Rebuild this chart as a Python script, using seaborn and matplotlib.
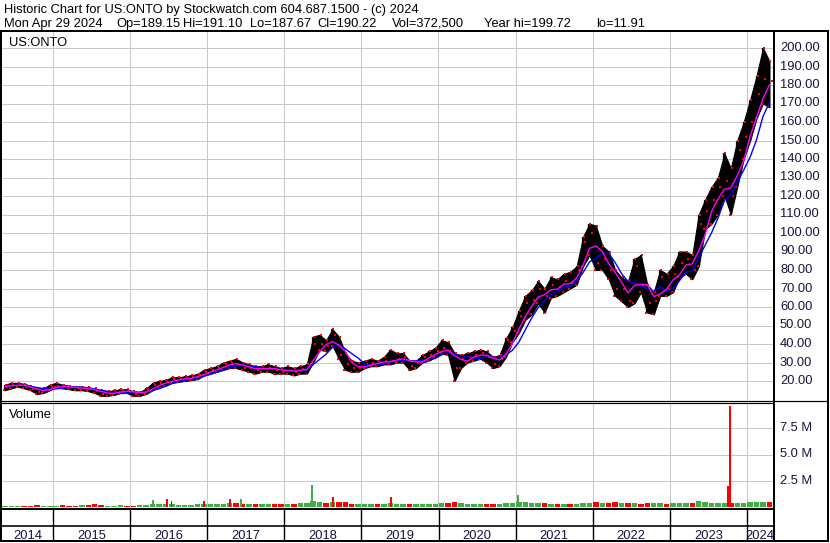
import numpy as np
import pandas as pd
import matplotlib
matplotlib.use("Agg")
import matplotlib.pyplot as plt
import seaborn as sns
from matplotlib.lines import Line2D

#------------DATA----------------------------------
# monthly bars, May 2014 .. Apr 2024
start_month = "2014-05"
price_low = [15, 16, 17, 16, 15, 13, 13.5, 15,
             16.5, 16, 15.5, 15, 15, 14.5, 13.5, 12, 12, 12.5, 13.5, 13.5,
             12, 12, 13, 15, 17, 17.5, 19, 19.5, 20, 20.5, 21, 23,
             24, 25, 26, 27, 27, 26, 25, 24, 25, 25, 24, 24,
             24, 23, 24, 24, 30, 37, 36, 39, 32, 26, 25, 25,
             27, 28, 28, 29, 29, 30, 30, 26, 27, 30, 31, 33,
             35, 34, 20, 27, 30, 31, 32, 30, 27, 28, 33, 41,
             46, 53, 56, 62, 57, 65, 66, 68, 70, 72, 82, 88,
             80, 80, 75, 66, 63, 60, 62, 68, 57, 56, 66, 66,
             68, 76, 78, 75, 82, 102, 105, 110, 120, 110, 125, 140,
             150, 162, 170, 168]
price_high = [18, 19, 19, 18.5, 17.5, 16, 16, 18,
              19, 18, 17.5, 17, 17, 16.5, 16, 15, 14.5, 15, 15.5, 15.5,
              14.5, 14, 16, 19, 20, 20.5, 22, 22, 22.5, 23, 24, 26,
              27, 28, 30, 31, 32, 30, 29, 28, 28, 29, 28, 27,
              28, 27, 28, 29, 44, 45, 42, 48, 44, 35, 31, 30,
              31, 32, 31, 33, 37, 35, 35, 31, 31, 34, 36, 38,
              42, 41, 35, 34, 35, 36, 37, 36, 33, 34, 43, 49,
              58, 66, 69, 74, 70, 76, 75, 78, 79, 82, 98, 105,
              104, 93, 90, 80, 76, 74, 86, 88, 72, 68, 80, 78,
              82, 90, 90, 88, 110, 118, 125, 130, 143, 135, 150, 160,
              172, 185, 200, 193]
price_close = [17, 18, 18, 17, 15.5, 14, 15, 17,
               17.5, 17, 16.5, 16, 16, 15.5, 14.5, 13, 13, 14, 15, 14.5,
               13, 13.5, 15.5, 18, 19, 19.5, 21, 21, 21.5, 22, 23.5, 25,
               26, 27, 29, 30, 29, 27, 27, 26, 27, 27, 26, 25,
               26, 25, 26.5, 27, 40, 40, 39, 45, 34, 29, 27, 27,
               29, 30, 29.5, 31, 31, 32, 33, 28, 30, 33, 34, 36,
               38, 36, 27, 32, 33, 34, 35, 33, 29, 32, 42, 47,
               55, 62, 64, 70, 66, 72, 71, 74, 73, 80, 95, 100,
               84, 86, 80, 70, 70, 63, 82, 72, 62, 63, 76, 70,
               78, 84, 86, 80, 105, 112, 118, 125, 128, 120, 145, 152,
               160, 175, 183, 182]
# typical daily volume per month, millions
volume_m = [0.15, 0.12, 0.1, 0.12, 0.15, 0.2, 0.15, 0.15,
            0.15, 0.2, 0.15, 0.15, 0.25, 0.2, 0.3, 0.2, 0.15, 0.15, 0.2, 0.15,
            0.15, 0.2, 0.2, 0.35, 0.3, 0.3, 0.3, 0.25, 0.2, 0.25, 0.3, 0.3,
            0.3, 0.35, 0.35, 0.4, 0.45, 0.35, 0.3, 0.3, 0.3, 0.3, 0.3, 0.3,
            0.3, 0.35, 0.4, 0.4, 0.6, 0.5, 0.45, 0.5, 0.55, 0.5, 0.35, 0.35,
            0.3, 0.3, 0.3, 0.35, 0.4, 0.35, 0.3, 0.35, 0.3, 0.3, 0.35, 0.35,
            0.4, 0.4, 0.5, 0.4, 0.35, 0.35, 0.35, 0.3, 0.3, 0.35, 0.4, 0.4,
            0.5, 0.5, 0.45, 0.4, 0.4, 0.35, 0.35, 0.3, 0.3, 0.35, 0.45, 0.45,
            0.5, 0.45, 0.45, 0.5, 0.4, 0.4, 0.4, 0.35, 0.4, 0.4, 0.4, 0.35,
            0.4, 0.45, 0.4, 0.45, 0.6, 0.5, 0.4, 0.4, 0.45, 0.45, 0.4, 0.45,
            0.5, 0.5, 0.55, 0.5]
# single-day volume spikes
spike_dates = ["2016-04-20", "2016-06-25", "2016-07-15", "2016-12-15", "2017-04-20",
               "2017-06-10", "2018-05-10", "2018-08-20", "2019-05-20", "2021-01-10",
               "2023-10-05", "2023-10-12"]
spike_vol_m = [0.75, 0.8, 0.6, 0.65, 0.8, 0.8, 2.1, 1.0, 1.0, 1.2, 2.0, 9.6]
spike_dir = ["up", "down", "down", "down", "down", "up", "up", "down", "down", "up",
             "down", "down"]

years = list(range(2014, 2025))
price_ticks = list(range(20, 201, 10))
vol_ticks = [2.5, 5.0, 7.5]

title1 = "Historic Chart for US:ONTO by Stockwatch.com 604.687.1500 - (c) 2024"
title2 = [("Mon Apr 29 2024", 4), ("Op=189.15", 116), ("Hi=191.10", 183),
          ("Lo=187.67", 250), ("Cl=190.22", 317), ("Vol=372,500", 392),
          ("Year hi=199.72", 484), ("lo=11.91", 596)]

#------------PREP-------------
def dec_year(ts):
    ts = pd.Timestamp(ts)
    return ts.year + (ts.dayofyear - 0.5) / (366 if ts.is_leap_year else 365)

months = pd.period_range(start_month, periods=len(price_close), freq="M")
df = pd.DataFrame({
    "x": [m.year + (m.month - 0.5) / 12 for m in months],
    "low": price_low, "high": price_high, "close": price_close, "vol": volume_m,
})
df["ma_fast"] = df["close"].rolling(3, min_periods=1).mean()
df["ma_slow"] = df["close"].rolling(5, min_periods=1).mean()
df["up"] = df["close"].diff().fillna(0) >= 0

spikes = pd.DataFrame({"x": [dec_year(d) for d in spike_dates], "vol": spike_vol_m,
                       "dir": spike_dir})

#------------FIGURE-------------
sns.set_style("white")
plt.rcParams["font.family"] = ["Liberation Sans", "DejaVu Sans"]

W, H = 830, 543
fig = plt.figure(figsize=(W / 100, H / 100), dpi=100)

def fx(px):
    return px / W

def fy(py):
    return 1 - py / H

def pline(x0, y0, x1, y1, lw=1.0, color="black"):
    fig.add_artist(Line2D([fx(x0), fx(x1)], [fy(y0), fy(y1)], color=color,
                          lw=lw * 0.72, solid_capstyle="butt"))

X0, X1 = 2015 - 51 / 77.1, 2015 + 721 / 77.1
GRID = "#c8c8c8"
TXT = "#141440"
GREEN = "#3cb043"

ax_p = fig.add_axes([fx(2), fy(401), fx(772), (401 - 31) / H])
ax_v = fig.add_axes([fx(2), fy(509), fx(772), (509 - 403) / H])
for ax in (ax_p, ax_v):
    ax.set_xlim(X0, X1)
    for s in ax.spines.values():
        s.set_visible(False)
    ax.set_xticks([])
    ax.set_yticks([])
    for yr in years[1:]:
        ax.axvline(yr, color=GRID, lw=1.0 * 0.72, zorder=0)

# price panel: monthly high/low band with bar ticks
ax_p.set_ylim(200 - 353 / 1.85, 200 + 17 / 1.85)
for v in price_ticks:
    ax_p.axhline(v, color=GRID, lw=1.0 * 0.72, zorder=0)
bw = 1 / 12
ax_p.fill_between(df["x"], df["low"], df["high"], color="black", linewidth=0.8,
                  edgecolor="black", zorder=2)
ax_p.vlines(df["x"], df["low"], df["high"], color="black", lw=1.6, zorder=2)
ax_p.scatter(df["x"] + bw * 0.15, df["high"], s=3, marker="s", color="red",
             linewidths=0, zorder=3)
ax_p.scatter(df["x"] - bw * 0.15, df["low"], s=3, marker="s", color="red",
             linewidths=0, zorder=3)
ax_p.scatter(df["x"] + bw * 0.35, df["close"], s=3, marker="s", color="red",
             linewidths=0, zorder=3)
sns.lineplot(data=df, x="x", y="ma_slow", color="blue", lw=1.0, ax=ax_p, zorder=4)
sns.lineplot(data=df, x="x", y="ma_fast", color="magenta", lw=1.0, ax=ax_p, zorder=4)
ax_p.set_xlabel("")
ax_p.set_ylabel("")

# volume panel
ax_v.set_ylim(-0.15, 9.9)
for v in vol_ticks:
    ax_v.axhline(v, color=GRID, lw=1.0 * 0.72, zorder=0)
ax_v.bar(df["x"], df["vol"], width=bw * 0.85,
         color=[GREEN if u else "red" for u in df["up"]], linewidth=0, zorder=2)
ax_v.bar(spikes["x"], spikes["vol"], width=bw * 0.3,
         color=[GREEN if d == "up" else "red" for d in spikes["dir"]], linewidth=0,
         zorder=3)
ax_v.set_xlabel("")
ax_v.set_ylabel("")

# frame lines
pline(0, 30.5, 829, 30.5, lw=2)
pline(1, 30, 1, 541, lw=2)
pline(773.5, 30, 773.5, 541, lw=2)
pline(827.5, 30, 827.5, 541, lw=2)
pline(0, 540.5, 829, 540.5, lw=2)
pline(0, 401, 828, 401, lw=1.2)
pline(0, 403.3, 773, 403.3, lw=1.2)
pline(0, 508.5, 773, 508.5, lw=2)
pline(0, 526, 773, 526, lw=1.6)
for yr in years[1:]:
    px = 53 + (yr - 2015) * 77.1
    pline(px, 509, px, 541, lw=1.4)

# text
fs = 9.3
fig.text(fx(4), fy(13), title1, fontsize=fs, color="black", va="baseline")
for s, px in title2:
    fig.text(fx(px), fy(27), s, fontsize=fs, color="black", va="baseline")
fig.text(fx(9), fy(46), "US:ONTO", fontsize=fs, color="black", va="baseline")
fig.text(fx(9), fy(418), "Volume", fontsize=fs, color="black", va="baseline")

def price_py(v):
    return 48 + (200 - v) * 1.85

for v in price_ticks:
    fig.text(fx(780), fy(price_py(v)), f"{v:.2f}", fontsize=fs, color=TXT,
             va="center")
for v in vol_ticks:
    fig.text(fx(780), fy(507 - v / 2.5 * 26.3), f"{v:.1f} M", fontsize=fs,
             color=TXT, va="center")

for yr in years:
    left = 2 if yr == 2014 else 53 + (yr - 2015) * 77.1
    right = min(773, 53 + (yr - 2014) * 77.1)
    fig.text(fx((left + right) / 2), fy(539), str(yr), fontsize=fs, color=TXT,
             ha="center", va="baseline")

fig.savefig("out.png", dpi=100)
